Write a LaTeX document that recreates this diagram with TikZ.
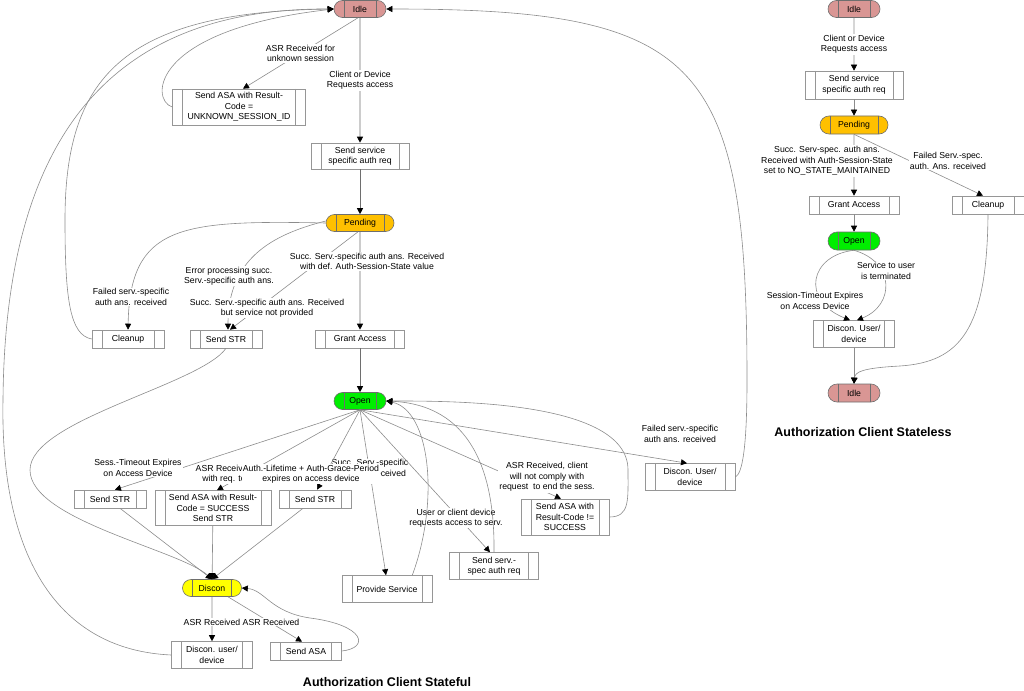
\documentclass[tikz,border=0pt]{standalone}
\usepackage{fontspec}
\setmainfont{Liberation Sans}
\usetikzlibrary{shapes.misc,arrows.meta}

\definecolor{idlefill}{RGB}{217,150,148}
\definecolor{pendfill}{RGB}{255,192,0}
\definecolor{openfill}{RGB}{0,238,0}
\definecolor{discfill}{RGB}{255,255,0}
\definecolor{boxline}{RGB}{150,150,150}
\definecolor{stateline}{RGB}{110,110,110}
\definecolor{edgeline}{RGB}{140,140,140}
\newcommand{\lblfont}{\fontsize{8.7}{10.5}\selectfont}

\tikzset{
  proc/.style={rectangle, draw=boxline, line width=0.6pt, fill=white, align=center, inner sep=1pt,
    minimum width=72pt, minimum height=18pt, font=\lblfont,
    path picture={\draw[boxline, line width=0.6pt]
      ([xshift=10pt]path picture bounding box.north west) -- ([xshift=10pt]path picture bounding box.south west)
      ([xshift=-10pt]path picture bounding box.north east) -- ([xshift=-10pt]path picture bounding box.south east);}},
  state/.style={rounded rectangle, draw=stateline, line width=0.6pt, inner sep=1pt,
    minimum width=54pt, minimum height=17pt, font=\lblfont,
    path picture={\draw[stateline, line width=0.6pt]
      ([xshift=10pt]path picture bounding box.north west) -- ([xshift=10pt]path picture bounding box.south west)
      ([xshift=-10pt]path picture bounding box.north east) -- ([xshift=-10pt]path picture bounding box.south east);}},
  lbl/.style={fill=white, inner sep=1pt, align=center, font=\lblfont},
  arr/.style={draw=edgeline, line width=0.6pt, -{Triangle[length=6pt, width=6pt, color=black]}},
  main/.style={arr, draw=stateline, line width=0.9pt},
  title/.style={font=\fontsize{12.5}{14}\selectfont\bfseries}
}

\begin{document}
\begin{tikzpicture}[x=1pt, y=-1pt]
    \useasboundingbox (0,0) rectangle (1024,690);

    % stateful
    \node[state, fill=idlefill] (idle) at (360,9) {Idle};
    \node[proc, minimum width=133pt, minimum height=36pt] (asaunk) at (239,107) {Send ASA with Result-\\Code =\\UNKNOWN\_SESSION\_ID};
    \node[proc, minimum width=98pt, minimum height=26pt] (svcreq) at (360,156) {Send service\\specific auth req};
    \node[state, fill=pendfill, minimum width=70pt] (pending) at (360,223) {Pending};
    \node[proc] (cleanup) at (128,339) {Cleanup};
    \node[proc] (strerr) at (226,339) {Send STR};
    \node[proc, minimum width=89pt] (grant) at (360,339) {Grant Access};
    \node[state, fill=openfill] (open) at (360,401) {Open};
    \node[proc] (strto) at (110,499) {Send STR};
    \node[proc, minimum width=116pt, minimum height=35pt] (asaok) at (213,508) {Send ASA with Result-\\Code = SUCCESS\\Send STR};
    \node[proc] (strlife) at (315,499) {Send STR};
    \node[proc, minimum width=90pt, minimum height=27pt] (provide) at (387,589) {Provide Service};
    \node[proc, minimum width=89pt, minimum height=27pt] (reauth) at (494,566) {Send serv.-\\spec auth req};
    \node[proc, minimum width=88pt, minimum height=36pt] (asanok) at (565,517) {Send ASA with\\Result-Code !=\\SUCCESS};
    \node[proc, minimum width=90pt, minimum height=27pt] (discuser) at (690,477) {Discon. User/\\device};
    \node[state, fill=discfill, minimum width=61pt] (discon) at (212,588) {Discon};
    \node[proc, minimum width=81pt, minimum height=27pt] (discdev) at (212,655) {Discon. user/\\device};
    \node[proc, minimum width=71pt] (asa) at (306,651) {Send ASA};
    \node[title] (stateful) at (387,682) {Authorization Client Stateful};

    % stateless
    \node[state, fill=idlefill] (idleB) at (854,9) {Idle};
    \node[proc, minimum width=98pt, minimum height=28pt] (svcreqB) at (854,85) {Send service\\specific auth req};
    \node[state, fill=pendfill, minimum width=70pt, minimum height=18pt] (pendingB) at (854,125) {Pending};
    \node[proc, minimum width=90pt] (grantB) at (854,205) {Grant Access};
    \node[proc] (cleanupB) at (988,205) {Cleanup};
    \node[state, fill=openfill, minimum height=18pt] (openB) at (854,241) {Open};
    \node[proc, minimum width=81pt, minimum height=27pt] (discB) at (854,334) {Discon. User/\\device};
    \node[state, fill=idlefill, minimum height=18pt] (idleC) at (854,393) {Idle};
    \node[title] (stateless) at (863,432) {Authorization Client Stateless};

    \draw[main] (idle) -- node[lbl] {Client or Device\\Requests access} (svcreq);
    \draw[arr] ([xshift=-2pt]idle.south) -- node[lbl] {ASR Received for\\unknown session} ([xshift=4pt]asaunk.north);
    \draw[arr] (asaunk.west) .. controls (150,100) and (150,30) .. (idle.west);
    \draw[arr] (cleanup.west) .. controls (70,335) and (65,300) .. (65,220) .. controls (65,80) and (120,12) .. (idle.west);
    \draw[arr] (discdev.west) .. controls (60,650) and (0,560) .. (3,400) .. controls (5,150) and (100,8) .. (idle.west);
    \draw[main] (svcreq) -- (pending);
    \draw[arr] (pending.west) .. controls (180,220) and (130,225) .. (cleanup.north) node[lbl] at (131,297) {Failed serv.-specific\\auth ans. received};
    \draw[arr] ([yshift=2pt]pending.west) .. controls (270,235) and (228,260) .. ([xshift=2pt]strerr.north) node[lbl] at (229,276) {Error processing succ.\\Serv.-specific auth ans.};
    \draw[arr] ([xshift=-2pt]pending.south) -- ([xshift=4pt]strerr.north) node[lbl] at (267,308) {Succ. Serv.-specific auth ans. Received\\but service not provided};
    \draw[main] (pending) -- node[lbl, pos=0.3, xshift=7pt] {Succ. Serv.-specific auth ans. Received\\with def. Auth-Session-State value} (grant);
    \draw[main] (grant) -- (open);
    \draw[arr] (strerr.south) .. controls (200,385) and (30,420) .. (30,470) .. controls (30,520) and (180,550) .. (discon.north);

    \draw[arr] (open.south) -- ([xshift=5pt]strto.north) node[lbl] at (138,468) {Sess.-Timeout Expires\\on Access Device};
    \draw[arr] (open.south) -- ([xshift=-1pt]provide.north) node[lbl] at (370,468) {Succ. Serv.-specific\\auth ans. received};
    \draw[arr] (open.south) -- ([xshift=4pt]asaok.north) node[lbl] at (224,474) {ASR Received\\with req. to};
    \draw[arr] (open.south) -- ([xshift=2pt]strlife.north) node[lbl] at (311,474) {Auth.-Lifetime + Auth-Grace-Period\\expires on access device};
    \draw[arr] (open.south) -- ([xshift=-4pt]reauth.north) node[lbl] at (456,518) {User or client device\\requests access to serv.};
    \draw[arr] (open.south) -- ([xshift=-4pt]asanok.north) node[lbl] at (547,477) {ASR Received, client\\will not comply with\\request\ \ to end the sess.};
    \draw[arr] (open.south) -- ([xshift=-3pt]discuser.north) node[lbl] at (680,434) {Failed serv.-specific\\auth ans. received};
    \draw[arr] ([xshift=-20pt]provide.north east) .. controls (440,500) and (430,410) .. (open.east);
    \draw[arr] (reauth.north) .. controls (495,470) and (470,405) .. (open.east);
    \draw[arr] (asanok.east) .. controls (630,517) and (628,500) .. (628,470) .. controls (628,400) and (450,401) .. (open.east);
    \draw[arr] (discuser.east) .. controls (742,474) and (747,450) .. (747,380) .. controls (747,60) and (700,9) .. (idle.east);

    \draw[arr] ([xshift=10pt]strto.south) -- (discon.north);
    \draw[arr] (asaok) -- (discon);
    \draw[arr] ([xshift=-12pt]strlife.south) -- (discon.north);
    \draw[arr] (discon) -- (discdev) node[lbl] at (212,622) {ASR Received};
    \draw[arr] ([xshift=16pt]discon.south) -- ([xshift=-4pt]asa.north) node[lbl] at (271,622) {ASR Received};
    \draw[arr] (asa.east) .. controls (370,648) and (365,625) .. (310,618) .. controls (270,612) and (265,590) .. (discon.east);

    \draw[arr] (idleB) -- node[lbl] {Client or Device\\Requests access} (svcreqB);
    \draw[arr] (svcreqB) -- (pendingB);
    \draw[arr] (pendingB) -- (grantB) node[lbl] at (827,161) {Succ. Serv-spec. auth ans.\\Received with Auth-Session-State\\set to NO\_STATE\_MAINTAINED};
    \draw[arr] (pendingB.south) -- ([xshift=-5pt]cleanupB.north) node[lbl] at (948,161) {Failed Serv.-spec.\\auth. Ans. received};
    \draw[arr] (grantB) -- (openB);
    \draw[arr] (openB.south) .. controls (810,255) and (800,300) .. ([xshift=-4pt]discB.north) node[lbl] at (815,301) {Session-Timeout Expires\\on Access Device};
    \draw[arr] (openB.south) .. controls (895,262) and (895,305) .. ([xshift=3pt]discB.north) node[lbl] at (886,271) {Service to user\\is terminated};
    \draw[arr] (discB) -- (idleC);
    \draw[arr] (cleanupB.south) .. controls (987,330) and (960,362) .. (900,366) .. controls (862,368) and (855,372) .. (idleC.north);
\end{tikzpicture}
\end{document}
